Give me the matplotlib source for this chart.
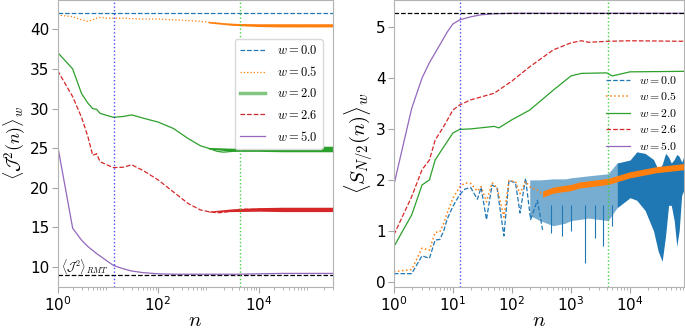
import matplotlib
matplotlib.use("Agg")
import matplotlib.pyplot as plt
from matplotlib.ticker import FixedLocator, LogLocator, NullFormatter

plt.rcParams['mathtext.fontset'] = 'cm'

# ---- left panel: <J^2(n)>_w ----
n_J = [1, 2, 3, 4, 5, 6, 7, 10, 13, 20, 30, 50, 100, 200, 400, 700, 1000,
       1500, 2000, 3000, 4250, 1e4, 3e4, 1e5, 3e5]
J_w00 = [42.0] * len(n_J)
J_w05 = [41.8, 41.6, 41.2, 41.0, 41.2, 41.4, 41.5, 41.4, 41.4, 41.4, 41.35, 41.3, 41.3,
         41.2, 41.1, 41.0, 40.9, 40.8, 40.7, 40.65, 40.6, 40.5, 40.5, 40.5, 40.5]
J_w20 = [37.1, 35.0, 31.9, 30.7, 30.0, 29.9, 29.4, 29.1, 28.9, 29.0, 29.2, 28.8, 28.3,
         27.5, 26.2, 25.3, 25.0, 24.6, 24.5, 24.6, 24.85, 24.9, 24.9, 24.9, 24.9]
J_w26 = [34.8, 31.5, 28.9, 26.5, 24.1, 24.3, 23.3, 22.85, 22.55, 22.6, 22.9, 22.2, 21.0,
         19.5, 18.0, 17.2, 17.0, 16.85, 16.9, 17.1, 17.3, 17.3, 17.3, 17.3, 17.3]
J_w50 = [25.4, 14.9, 13.4, 12.6, 12.1, 11.7, 11.4, 10.7, 10.2, 9.8, 9.5, 9.3, 9.15,
         9.1, 9.1, 9.1, 9.1, 9.1, 9.1, 9.1, 9.1, 9.15, 9.2, 9.2, 9.2]
J_rmt = 9.0

# noisy plateau envelopes (late times)
n_Jband = [1000, 3000, 1e4, 3e4, 1e5, 3e5]
J_w05_lo = [40.8, 40.5, 40.35, 40.3, 40.3, 40.3]
J_w05_hi = [41.0, 40.75, 40.7, 40.7, 40.7, 40.7]
J_w20_lo = [24.9, 24.6, 24.6, 24.55, 24.55, 24.55]
J_w20_hi = [25.1, 25.0, 25.15, 25.25, 25.25, 25.25]
J_w26_lo = [16.95, 17.0, 17.05, 17.0, 17.0, 17.0]
J_w26_hi = [17.05, 17.35, 17.5, 17.55, 17.55, 17.55]

# ---- right panel: <S_{N/2}(n)>_w ----
n_Searly = [1, 2, 3, 4, 5, 6, 7, 8, 10, 13, 16, 20, 26, 30, 37, 46, 56, 73, 89,
            115, 137, 170, 207, 270, 330]
S_w00_early = [0.16, 0.16, 0.51, 0.46, 0.82, 0.83, 1.0, 1.23, 1.48, 1.71, 1.82, 1.85, 1.62,
               1.85, 1.22, 1.9, 1.84, 0.9, 1.99, 1.94, 1.35, 2.03, 1.22, 1.6, 1.02]
S_w05_early = [0.2, 0.24, 0.66, 0.62, 0.97, 0.98, 1.15, 1.35, 1.64, 1.86, 1.94, 1.93, 1.78,
               1.87, 1.57, 1.94, 1.85, 1.27, 1.99, 1.96, 1.73, 1.97, 1.85, 1.8, 1.72]
n_Slate = [330, 500, 1000, 1400, 4250, 1e4, 2.8e4, 8.2e4]
S_w05_late = [1.72, 1.8, 1.85, 1.9, 1.97, 2.1, 2.2, 2.26]
S_w05_hw = 0.06

# sparse spiky region, then dense band
n_Sblue1 = [200, 300, 500, 800, 1000, 2000, 4250, 6000]
S_w00_hi1 = [2.0, 2.0, 2.02, 2.02, 2.04, 2.08, 2.12, 2.33]
S_w00_lo1 = [1.3, 1.2, 1.1, 1.15, 1.2, 1.25, 1.2, 1.45]
n_Sblue2 = [6000, 1e4, 1.3e4, 1.8e4, 2.5e4, 3e4, 3.5e4, 4e4, 4.5e4, 5e4, 5.6e4,
            6.2e4, 6.8e4, 7.5e4, 8.2e4]
S_w00_hi2 = [2.33, 2.39, 2.55, 2.52, 2.4, 2.2, 2.3, 2.52, 2.45, 2.33, 2.4, 2.5, 2.46,
             2.35, 2.46]
S_w00_lo2 = [1.45, 1.65, 1.6, 1.4, 1.0, 0.6, 0.4, 0.9, 1.5, 1.5, 1.2, 0.7, 1.0, 1.7, 1.8]
n_spike = [450, 700, 1000, 1730, 2600, 3500, 5000]
S_spike = [0.95, 0.9, 1.0, 0.37, 0.85, 0.7, 1.1]

n_S20 = [1, 2, 3, 4, 5, 7, 10, 13, 20, 50, 60, 100, 200, 500, 1000, 1500, 4000,
         5000, 1e4, 8.2e4]
S_w20 = [0.69, 1.31, 1.9, 2.0, 2.39, 2.65, 2.92, 2.99, 3.0, 3.05, 3.02, 3.18, 3.37,
         3.76, 4.04, 4.09, 4.1, 4.04, 4.12, 4.13]
n_S26 = [1, 2, 3, 4, 5, 7, 10, 13, 20, 50, 100, 200, 500, 1000, 1500, 2000, 4250,
         1e4, 8.2e4]
S_w26 = [0.92, 1.67, 2.2, 2.39, 2.78, 3.05, 3.37, 3.47, 3.57, 3.7, 3.94, 4.22, 4.55,
         4.69, 4.73, 4.70, 4.72, 4.73, 4.72]
n_S50 = [1, 2, 3, 4, 6, 8, 10, 13, 20, 30, 50, 100, 1000, 1e4, 8.2e4]
S_w50 = [1.9, 3.4, 4.0, 4.3, 4.65, 4.9, 5.06, 5.14, 5.2, 5.24, 5.26, 5.27, 5.27,
         5.27, 5.27]
S_max = 5.28

n_blue_mark = 13
n_green_mark = 4250

labels = ['$w=0.0$', '$w=0.5$', '$w=2.0$', '$w=2.6$', '$w=5.0$']
colors = ['C0', 'C1', 'C2', 'C3', 'C4']
styles = ['--', ':', '-', '--', '-']


def style_axes(ax):
    ax.set_xscale('log')
    for sp in ax.spines.values():
        sp.set_color('0.7')
    ax.tick_params(which='both', color='0.65', labelsize=11, pad=2)
    ax.tick_params(which='major', length=4)
    ax.tick_params(which='minor', length=2)
    ax.xaxis.set_minor_locator(LogLocator(base=10, subs=range(2, 10), numticks=20))
    ax.xaxis.set_minor_formatter(NullFormatter())


fig = plt.figure(figsize=(6.85, 3.29), dpi=100)
ax1 = fig.add_axes([0.084, 0.128, 0.402, 0.872])
ax2 = fig.add_axes([0.575, 0.128, 0.4235, 0.872])

# left panel
lw = 0.9
series_J = [J_w00, J_w05, J_w20, J_w26, J_w50]
for y, c, ls, lab in zip(series_J, colors, styles, labels):
    ax1.plot(n_J, y, color=c, ls=ls, lw=lw, label=lab)
ax1.fill_between(n_Jband, J_w05_lo, J_w05_hi, color='C1', lw=0)
ax1.fill_between(n_Jband, J_w20_lo, J_w20_hi, color='C2', lw=0)
ax1.fill_between(n_Jband, J_w26_lo, J_w26_hi, color='C3', lw=0)
ax1.axhline(J_rmt, color='k', ls='--', lw=0.9)
ax1.axvline(n_blue_mark, color='blue', ls=':', lw=1, alpha=0.7)
ax1.axvline(n_green_mark, color='limegreen', ls=':', lw=1, alpha=0.9)
ax1.text(1.15, 9.4, r'$\langle \mathcal{J}^2\rangle_{RMT}$', fontsize=8.5)
style_axes(ax1)
ax1.set_xlim(1, 3e5)
ax1.set_ylim(7.5, 43.7)
ax1.xaxis.set_major_locator(FixedLocator([1, 1e2, 1e4]))
ax1.set_yticks([10, 15, 20, 25, 30, 35, 40])
ax1.set_xlabel('$n$', fontsize=15, labelpad=-3)
ax1.set_ylabel(r'$\langle \mathcal{J}^2(n)\rangle_w$', fontsize=13)
ax1.yaxis.set_label_coords(-0.108, 0.5)
leg1 = ax1.legend(loc='upper right', bbox_to_anchor=(0.985, 0.885), fontsize=9,
                  framealpha=1, edgecolor='0.85', handlelength=2.0,
                  labelspacing=0.65, handletextpad=1.0)
leg1.get_lines()[2].set_linewidth(2.5)
leg1.get_lines()[2].set_alpha(0.6)

# right panel
ax2.fill_between(n_Sblue1, S_w00_lo1, S_w00_hi1, color='C0', lw=0, alpha=0.6)
ax2.fill_between(n_Sblue2, S_w00_lo2, S_w00_hi2, color='C0', lw=0)
ax2.vlines(n_spike, S_spike, 1.5, color='C0', lw=0.8)
ax2.plot(n_Searly, S_w00_early, color='C0', ls='--', lw=lw, label=labels[0])
ax2.plot(n_Searly, S_w05_early, color='C1', ls=':', lw=lw + 0.2, label=labels[1])
S_w05_lo = [v - S_w05_hw for v in S_w05_late]
S_w05_hi = [v + S_w05_hw for v in S_w05_late]
ax2.fill_between(n_Slate, S_w05_lo, S_w05_hi, color='C1', lw=0)
ax2.plot(n_S20, S_w20, color='C2', ls='-', lw=lw, label=labels[2])
ax2.plot(n_S26, S_w26, color='C3', ls='--', lw=lw, label=labels[3])
ax2.plot(n_S50, S_w50, color='C4', ls='-', lw=lw, label=labels[4])
ax2.axhline(S_max, color='k', ls='--', lw=0.9)
ax2.axvline(n_blue_mark, color='blue', ls=':', lw=1, alpha=0.7)
ax2.axvline(n_green_mark, color='limegreen', ls=':', lw=1, alpha=0.9)
style_axes(ax2)
ax2.set_xlim(1, 8.2e4)
ax2.set_ylim(-0.1, 5.53)
ax2.xaxis.set_major_locator(FixedLocator([1, 1e1, 1e2, 1e3, 1e4]))
ax2.set_yticks([0, 1, 2, 3, 4, 5])
ax2.set_xlabel('$n$', fontsize=15, labelpad=-3)
ax2.set_ylabel(r'$\langle S_{N/2}(n)\rangle_w$', fontsize=15, labelpad=0)
ax2.legend(loc='upper right', bbox_to_anchor=(1.015, 0.78), fontsize=8.5,
           frameon=False, handlelength=2.0, labelspacing=0.3, handletextpad=0.8)

fig.savefig('out.png', dpi=100)
